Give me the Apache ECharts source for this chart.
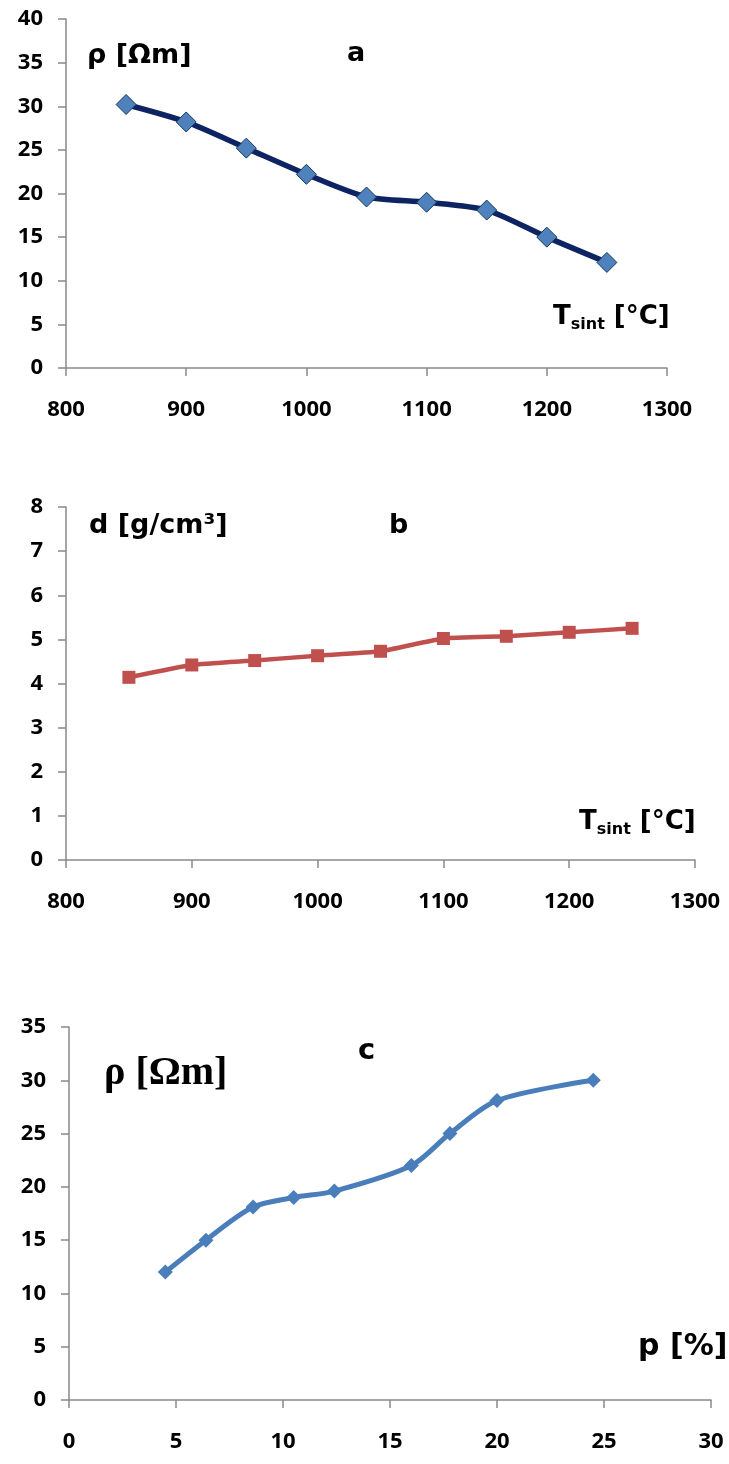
<!DOCTYPE html>
<html>
<head>
<meta charset="utf-8">
<script src="https://cdn.jsdelivr.net/npm/echarts@6/dist/echarts.min.js"></script>
<style>
  html, body { margin: 0; padding: 0; background: #fff; }
  #chart { width: 729px; height: 1464px; }
</style>
</head>
<body>
<div id="chart"></div>
<script>
// sintering temperature (°C), shared by a and b
const tSint = [850, 900, 950, 1000, 1050, 1100, 1150, 1200, 1250];
// a: resistivity vs sintering temperature
const rhoA = [30.2, 28.2, 25.2, 22.2, 19.6, 19.0, 18.1, 15.0, 12.1];
// b: density vs sintering temperature
const densB = [4.14, 4.42, 4.52, 4.63, 4.73, 5.02, 5.07, 5.16, 5.25];
// c: resistivity vs porosity
const poroC = [4.5, 6.4, 8.6, 10.5, 12.4, 16.0, 17.8, 20.0, 24.5];
const rhoC = [12.0, 15.0, 18.1, 19.0, 19.6, 22.0, 25.0, 28.1, 30.0];

const font = "DejaVu Sans";
const tickFont = "Open Sans";
const serif = "Liberation Serif";
const axisGray = "#898989";

const pairs = (xs, ys) => xs.map((x, i) => [x, ys[i]]);

function xAxis(gridIndex, min, max, interval) {
  return {
    type: "value", gridIndex, min, max, interval,
    splitLine: { show: false },
    axisLine: { lineStyle: { color: axisGray, width: 1.5 } },
    axisTick: { show: true, length: 8, lineStyle: { color: axisGray, width: 1.5 } },
    axisLabel: {
      color: "#000", fontFamily: tickFont, fontWeight: "bold", fontSize: 22, margin: 31,
      formatter: (v) => String(v)
    }
  };
}
function yAxis(gridIndex, min, max, interval) {
  return {
    type: "value", gridIndex, min, max, interval,
    splitLine: { show: false },
    axisLine: { show: true, lineStyle: { color: axisGray, width: 1.5 } },
    axisTick: { show: true, length: 8, lineStyle: { color: axisGray, width: 1.5 } },
    axisLabel: { color: "#000", fontFamily: tickFont, fontWeight: "bold", fontSize: 22, margin: 23 }
  };
}
function label(text, left, top, size, family, rich) {
  return {
    text, left, top,
    textStyle: { fontFamily: family || font, fontWeight: "bold", fontSize: size, color: "#000", rich: rich || {} }
  };
}
const tRich = {
  m: { fontFamily: font, fontWeight: "bold", fontSize: 26, color: "#000", lineHeight: 30 },
  s: { fontFamily: font, fontWeight: "bold", fontSize: 16, color: "#000", lineHeight: 16, padding: [16, 0, 0, 0] }
};

const chart = echarts.init(document.getElementById("chart"));
chart.setOption({
  backgroundColor: "#fff",
  animation: false,
  title: [
    label("ρ [Ωm]", 82, 37, 27),
    label("a", 342, 35, 27),
    label("{m|T}{s|sint}{m| [°C]}", 548, 297, 26, font, tRich),
    label("d [g/cm³]", 84, 507, 27),
    label("b", 384, 507, 27),
    label("{m|T}{s|sint}{m| [°C]}", 574, 802, 26, font, tRich),
    label("ρ [Ωm]", 99, 1049, 40, serif),
    label("c", 353, 1032, 29),
    label("p [%]", 633, 1327, 30)
  ],
  grid: [
    { left: 66, top: 19, width: 601, height: 349 },
    { left: 66, top: 507, width: 629, height: 353 },
    { left: 69, top: 1027, width: 642, height: 373 }
  ],
  xAxis: [
    xAxis(0, 800, 1300, 100),
    xAxis(1, 800, 1300, 100),
    xAxis(2, 0, 30, 5)
  ],
  yAxis: [
    yAxis(0, 0, 40, 5),
    yAxis(1, 0, 8, 1),
    yAxis(2, 0, 35, 5)
  ],
  series: [
    {
      type: "line", xAxisIndex: 0, yAxisIndex: 0,
      data: pairs(tSint, rhoA), smooth: 0.25,
      lineStyle: { color: "#0e2462", width: 5.5 },
      symbol: "diamond", symbolSize: 20,
      itemStyle: { color: "#4f81bd", borderColor: "#17375e", borderWidth: 1 }
    },
    {
      type: "line", xAxisIndex: 1, yAxisIndex: 1,
      data: pairs(tSint, densB), smooth: 0.15,
      lineStyle: { color: "#c0504d", width: 4.5 },
      symbol: "rect", symbolSize: 13,
      itemStyle: { color: "#c0504d", borderColor: "#c0504d", borderWidth: 0 }
    },
    {
      type: "line", xAxisIndex: 2, yAxisIndex: 2,
      data: pairs(poroC, rhoC), smooth: 0.3,
      lineStyle: { color: "#4a7ebb", width: 5 },
      symbol: "diamond", symbolSize: 15,
      itemStyle: { color: "#4a7ebb", borderColor: "#4a7ebb", borderWidth: 0 }
    }
  ]
});
</script>
</body>
</html>
